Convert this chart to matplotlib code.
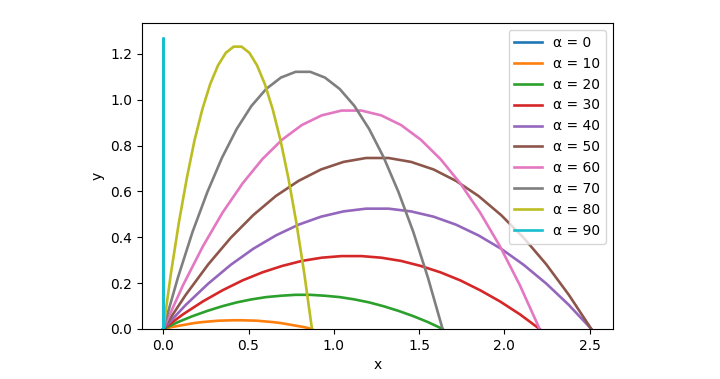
import numpy as np
import matplotlib
matplotlib.use("Agg")
from matplotlib import pyplot as plt

# launch angles (degrees)
angles = [0, 10, 20, 30, 40, 50, 60, 70, 80, 90]

# trajectory points, 20 points per curve
x_0 = [0.0] * 20
y_0 = [0.0] * 20

x_10 = [0, .046, .092, .138, .183, .229, .275, .321, .367, .413,
        .459, .505, .550, .596, .642, .688, .734, .780, .826, .872]
y_10 = [0, .008, .014, .020, .026, .030, .033, .036, .037, .038,
        .038, .037, .036, .033, .030, .026, .020, .014, .008, 0]

x_20 = [0, .086, .172, .259, .345, .431, .517, .603, .690, .776,
        .862, .948, 1.035, 1.121, 1.207, 1.293, 1.379, 1.466, 1.552, 1.638]
y_20 = [0, .030, .056, .079, .099, .116, .129, .139, .145, .149,
        .149, .145, .139, .129, .116, .099, .079, .056, .030, 0]

x_30 = [0, .116, .232, .348, .465, .581, .697, .813, .929, 1.045,
        1.162, 1.278, 1.394, 1.510, 1.626, 1.742, 1.858, 1.975, 2.091, 2.207]
y_30 = [0, .064, .120, .169, .212, .247, .275, .297, .311, .318,
        .318, .311, .297, .275, .247, .212, .169, .120, .064, 0]

x_40 = [0, .132, .264, .396, .528, .660, .793, .925, 1.057, 1.189,
        1.321, 1.453, 1.585, 1.717, 1.849, 1.981, 2.113, 2.246, 2.378, 2.510]
y_40 = [0, .105, .198, .280, .350, .408, .455, .490, .513, .525,
        .525, .513, .490, .455, .408, .350, .280, .198, .105, 0]

x_50 = x_40
y_50 = [0, .149, .282, .398, .497, .580, .646, .696, .729, .746,
        .746, .729, .696, .646, .580, .497, .398, .282, .149, 0]

x_60 = x_30
y_60 = [0, .191, .360, .508, .635, .741, .826, .890, .932, .953,
        .953, .932, .890, .826, .741, .635, .508, .360, .191, 0]

x_70 = x_20
y_70 = [0, .224, .424, .598, .748, .873, .973, 1.047, 1.097, 1.122,
        1.122, 1.097, 1.047, .973, .873, .748, .598, .424, .224, 0]

x_80 = x_10
y_80 = [0, .247, .466, .657, .822, .958, 1.068, 1.150, 1.205, 1.232,
        1.232, 1.205, 1.150, 1.068, .958, .822, .657, .466, .247, 0]

x_90 = [0.0] * 20
y_90 = [0, .254, .480, .678, .847, .988, 1.101, 1.186, 1.242, 1.271,
        1.271, 1.242, 1.186, 1.101, .988, .847, .678, .480, .254, 0]

curves = [(x_0, y_0), (x_10, y_10), (x_20, y_20), (x_30, y_30), (x_40, y_40),
          (x_50, y_50), (x_60, y_60), (x_70, y_70), (x_80, y_80), (x_90, y_90)]

fig = plt.figure(figsize=(7.2, 3.79), dpi=100)
ax = fig.add_axes([0.197, 0.132, 0.654, 0.807])

for alpha, (xs, ys) in zip(angles, curves):
    ax.plot(xs, ys, lw=1.9, label=f"α = {alpha}")

ax.set_ylim(bottom=0)
ax.set_xlabel("x")
ax.set_ylabel("y")
ax.legend(loc="upper right")

fig.savefig("out.png", dpi=100)
